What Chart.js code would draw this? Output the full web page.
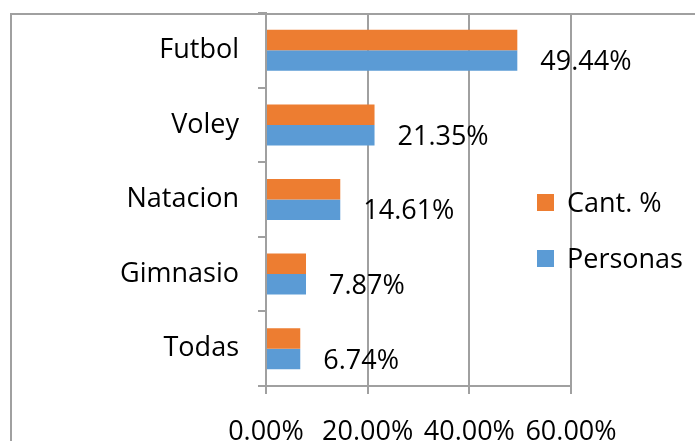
<!DOCTYPE html>
<html>
<head>
<meta charset="utf-8">
<script src="https://cdn.jsdelivr.net/npm/chart.js@4/dist/chart.umd.min.js"></script>
<style>
  html, body { margin: 0; padding: 0; background: #fff; }
  canvas { display: block; }
</style>
</head>
<body>
<canvas id="chart" width="695" height="441"></canvas>
<script>
// data
const categories = ['Futbol', 'Voley', 'Natacion', 'Gimnasio', 'Todas'];
const cantPct = [49.44, 21.35, 14.61, 7.87, 6.74];
const personas = [49.44, 21.35, 14.61, 7.87, 6.74];
const xTicks = [0, 20, 40, 60];

const gray = '#a0a0a0';
const fontName = '"Open Sans"';

Chart.defaults.font.family = fontName;
Chart.defaults.font.size = 27;
Chart.defaults.color = '#000';

// outer frame of the chart (runs off the right and bottom edges)
const framePlugin = {
    id: 'frame',
    beforeDraw(chart) {
        const ctx = chart.ctx;
        ctx.save();
        ctx.fillStyle = '#fff';
        ctx.fillRect(0, 0, chart.width, chart.height);
        ctx.strokeStyle = gray;
        ctx.lineWidth = 2;
        ctx.strokeRect(11, 14, chart.width + 20, chart.height + 20);
        ctx.restore();
    }
};

// value label next to each Personas bar
const labelPlugin = {
    id: 'barLabels',
    afterDatasetsDraw(chart) {
        const ctx = chart.ctx;
        const meta = chart.getDatasetMeta(1);
        ctx.save();
        ctx.font = '27px ' + fontName;
        ctx.fillStyle = '#000';
        ctx.textAlign = 'left';
        ctx.textBaseline = 'middle';
        meta.data.forEach((bar, i) => {
            ctx.fillText(personas[i].toFixed(2) + '%', bar.x + 23, bar.y + 2);
        });
        ctx.restore();
    }
};

// legend drawn over the plot, like the original
const legendPlugin = {
    id: 'overlayLegend',
    afterDraw(chart) {
        const ctx = chart.ctx;
        const area = chart.chartArea;
        const x0 = area.right - 34;
        const y0 = area.top + 181;
        ctx.save();
        ctx.font = '27px ' + fontName;
        ctx.textAlign = 'left';
        ctx.textBaseline = 'middle';
        chart.data.datasets.forEach((ds, i) => {
            const y = y0 + i * 56;
            ctx.fillStyle = ds.backgroundColor;
            ctx.fillRect(x0, y, 17, 17);
            ctx.fillStyle = '#000';
            ctx.fillText(ds.label, x0 + 30, y + 10);
        });
        ctx.restore();
    }
};

const ctx = document.getElementById('chart').getContext('2d');
const chart = new Chart(ctx, {
    type: 'bar',
    data: {
        labels: categories,
        datasets: [{
            label: 'Cant. %',
            data: cantPct,
            backgroundColor: '#ED7D31',
            categoryPercentage: 0.55,
            barPercentage: 1
        }, {
            label: 'Personas',
            data: personas,
            backgroundColor: '#5B9BD5',
            categoryPercentage: 0.55,
            barPercentage: 1
        }]
    },
    options: {
        indexAxis: 'y',
        responsive: false,
        animation: false,
        devicePixelRatio: 1,
        layout: {
            padding: { left: 0, right: 124, top: 13, bottom: 0 }
        },
        plugins: {
            legend: { display: false },
            tooltip: { enabled: false }
        },
        scales: {
            x: {
                min: 0,
                max: 60,
                afterBuildTicks(scale) {
                    scale.ticks = xTicks.map(v => ({ value: v }));
                },
                afterFit(scale) {
                    scale.height = 55;
                    scale.paddingLeft = 0;
                    scale.paddingRight = 0;
                },
                ticks: {
                    callback: v => v.toFixed(2) + '%',
                    padding: 22,
                    maxRotation: 0,
                    autoSkip: false,
                    color: '#000'
                },
                grid: {
                    color: gray,
                    lineWidth: 2,
                    tickLength: 8,
                    drawTicks: true
                },
                border: { display: true, color: gray, width: 2 }
            },
            y: {
                afterFit(scale) {
                    scale.width = 266;
                    scale.paddingTop = 0;
                    scale.paddingBottom = 0;
                },
                ticks: {
                    padding: 19,
                    color: '#000'
                },
                grid: {
                    drawOnChartArea: false,
                    drawTicks: true,
                    tickLength: 8,
                    color: gray,
                    lineWidth: 2
                },
                border: { display: true, color: gray, width: 2 }
            }
        }
    },
    plugins: [framePlugin, labelPlugin, legendPlugin]
});
</script>
</body>
</html>
